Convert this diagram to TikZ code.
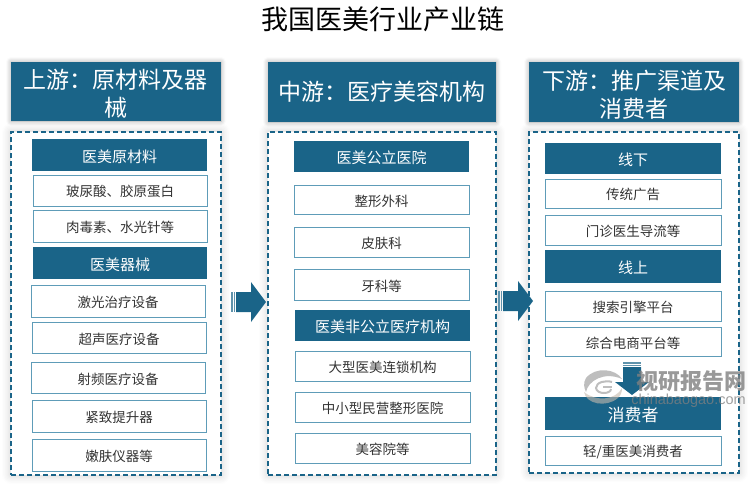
\documentclass[tikz,border=0pt]{standalone}
\usepackage{fontspec}
\setmainfont{Noto Sans CJK SC}[Scale=1]
\newfontfamily\latinwm{Liberation Sans}
\usetikzlibrary{shadows.blur,positioning}
\definecolor{teal1}{HTML}{1A6488}
\definecolor{edge1}{HTML}{5E9CB8}
\newcommand{\topstrut}{\rule{0pt}{1.05em}}
\tikzset{
  x=1pt,y=-1pt,
  headbox/.style={fill=teal1,blur shadow={shadow blur steps=6,shadow xshift=0pt,shadow yshift=0pt,shadow opacity=35,shadow blur radius=5pt},text=white,font=\fontsize{23}{28}\selectfont,align=center,inner sep=0pt,anchor=center},
  panel/.style={draw=teal1,line width=1.4pt,dash pattern=on 5pt off 3pt,fill=white,blur shadow={shadow blur steps=8,shadow xshift=0pt,shadow yshift=0pt,shadow opacity=20,shadow blur radius=9pt}},
  darkitem/.style={fill=teal1,text=white,font=\fontsize{15}{17}\selectfont,inner sep=0pt,anchor=center,execute at begin node=\topstrut},
  lightitem/.style={draw=edge1,line width=0.9pt,fill=white,text=black!80,font=\fontsize{13.5}{16}\selectfont,inner sep=0pt,anchor=center,execute at begin node=\topstrut},
  flowarrow/.style={fill=teal1,draw=none},
}
\begin{document}
\begin{tikzpicture}
\useasboundingbox (0,0) rectangle (750,485);
\node[font=\fontsize{27}{30}\selectfont,text=black] (title) at (383,19) {我国医美行业产业链};

% panels
\node[panel,minimum width=210pt,minimum height=343pt,inner sep=0pt] (p1) at (116,303.5) {};
\node[panel,minimum width=228pt,minimum height=343pt,inner sep=0pt] (p2) at (382,303.5) {};
\node[panel,minimum width=210pt,minimum height=341pt,inner sep=0pt] (p3) at (634,302.5) {};

% headers
\node[headbox,minimum width=210pt,minimum height=59pt,text width=200pt] (h1) at (116,91.5) {\rule{0pt}{24pt}上游：原材料及器\\械};
\node[headbox,minimum width=228pt,minimum height=60pt] (h2) at (382,92) {中游：医疗美容机构};
\node[headbox,minimum width=210pt,minimum height=60pt,text width=200pt] (h3) at (634,92) {\rule{0pt}{24pt}下游：推广渠道及\\消费者};

% column 1
\node[darkitem,minimum width=175pt,minimum height=32pt] (a1) at (119.5,155) {医美原材料};
\node[lightitem,minimum width=174pt,minimum height=31pt] (a2) at (120,190.5) {玻尿酸、胶原蛋白};
\node[lightitem,minimum width=174pt,minimum height=32pt] (a3) at (120,226) {肉毒素、水光针等};
\node[darkitem,minimum width=174pt,minimum height=32pt] (a4) at (120,263) {医美器械};
\node[lightitem,minimum width=174pt,minimum height=32pt] (a5) at (118,301) {激光治疗设备};
\node[lightitem,minimum width=174pt,minimum height=31pt] (a6) at (119,337.5) {超声医疗设备};
\node[lightitem,minimum width=174pt,minimum height=31pt] (a7) at (118,377.5) {射频医疗设备};
\node[lightitem,minimum width=174pt,minimum height=32pt] (a8) at (119,416) {紧致提升器};
\node[lightitem,minimum width=174pt,minimum height=32pt] (a9) at (119,455) {嫩肤仪器等};

% column 2
\node[darkitem,minimum width=175pt,minimum height=31pt] (b1) at (381.5,156.5) {医美公立医院};
\node[lightitem,minimum width=175pt,minimum height=29pt] (b2) at (381.5,199.5) {整形外科};
\node[lightitem,minimum width=175pt,minimum height=30pt] (b3) at (381.5,242) {皮肤科};
\node[lightitem,minimum width=175pt,minimum height=31pt] (b4) at (381.5,284.5) {牙科等};
\node[darkitem,minimum width=175pt,minimum height=31pt] (b5) at (382.5,325.5) {医美非公立医疗机构};
\node[lightitem,minimum width=175pt,minimum height=30pt] (b6) at (382.5,366) {大型医美连锁机构};
\node[lightitem,minimum width=175pt,minimum height=30pt] (b7) at (382.5,407) {中小型民营整形医院};
\node[lightitem,minimum width=175pt,minimum height=30pt] (b8) at (382.5,448) {美容院等};

% column 3
\node[darkitem,minimum width=176pt,minimum height=31pt] (c1) at (633,158.5) {线下};
\node[lightitem,minimum width=176pt,minimum height=29pt] (c2) at (633,193.5) {传统广告};
\node[lightitem,minimum width=176pt,minimum height=30pt] (c3) at (633,230) {门诊医生导流等};
\node[darkitem,minimum width=176pt,minimum height=33pt] (c4) at (633,266.5) {线上};
\node[lightitem,minimum width=176pt,minimum height=30pt] (c5) at (633,306) {搜索引擎平台};
\node[lightitem,minimum width=176pt,minimum height=29pt] (c6) at (633,341.5) {综合电商平台等};
\node[darkitem,minimum width=176pt,minimum height=33pt,font=\fontsize{17}{19}\selectfont] (c7) at (633,413.5) {消费者};
\node[lightitem,minimum width=176pt,minimum height=29pt] (c8) at (633,450.5) {轻/重医美消费者};

% block arrows
\foreach \ox/\oy in {231/302,498/301}{
  \begin{scope}[shift={(\ox,\oy)}]
    \fill[teal1!70] (0,-10) rectangle (1.5,10);
    \fill[teal1!70] (2.5,-10) rectangle (4,10);
    \fill[flowarrow] (5,-10) -- (20,-10) -- (20,-20) -- (35,0) -- (20,20) -- (20,10) -- (5,10) -- cycle;
  \end{scope}
}
\begin{scope}[shift={(632,362)}]
  \fill[teal1!70] (-9,0) rectangle (9,1.5);
  \fill[teal1!70] (-9,2.5) rectangle (9,4);
  \fill[flowarrow] (-9,5) -- (9,5) -- (9,20) -- (17,20) -- (0,33) -- (-17,20) -- (-9,20) -- cycle;
\end{scope}

% watermark logo
\begin{scope}[opacity=0.6]
  \fill[gray!85] (622,379) .. controls (616,369) and (596,366) .. (586,378)
     .. controls (583,383) and (584,388) .. (586,392)
     .. controls (588,381) and (604,371) .. (622,379) -- cycle;
  \fill[brown!35!gray!55] (584,392) .. controls (586,404) and (606,408) .. (618,398)
     .. controls (621,395) and (622,392) .. (622,388)
     .. controls (616,400) and (596,402) .. (584,392) -- cycle;
  \draw[gray!85,line width=2pt] (611,389) .. controls (611,394) and (597,395) .. (596,388)
     .. controls (596,382) and (606,380) .. (612,382);
  \draw[gray!85,line width=2pt] (603,387) -- (612,387);
\end{scope}
% watermark text
\node[text=gray,opacity=0.8,font=\fontsize{22}{24}\bfseries\selectfont,inner sep=0pt] (wm1) at (691,381) {视研报告网};
\node[text=gray,opacity=0.75,font=\latinwm\fontsize{14.5}{16}\selectfont,inner sep=0pt] (wm2) at (688.5,400.5) {chinabaogao.com};
\end{tikzpicture}
\end{document}
